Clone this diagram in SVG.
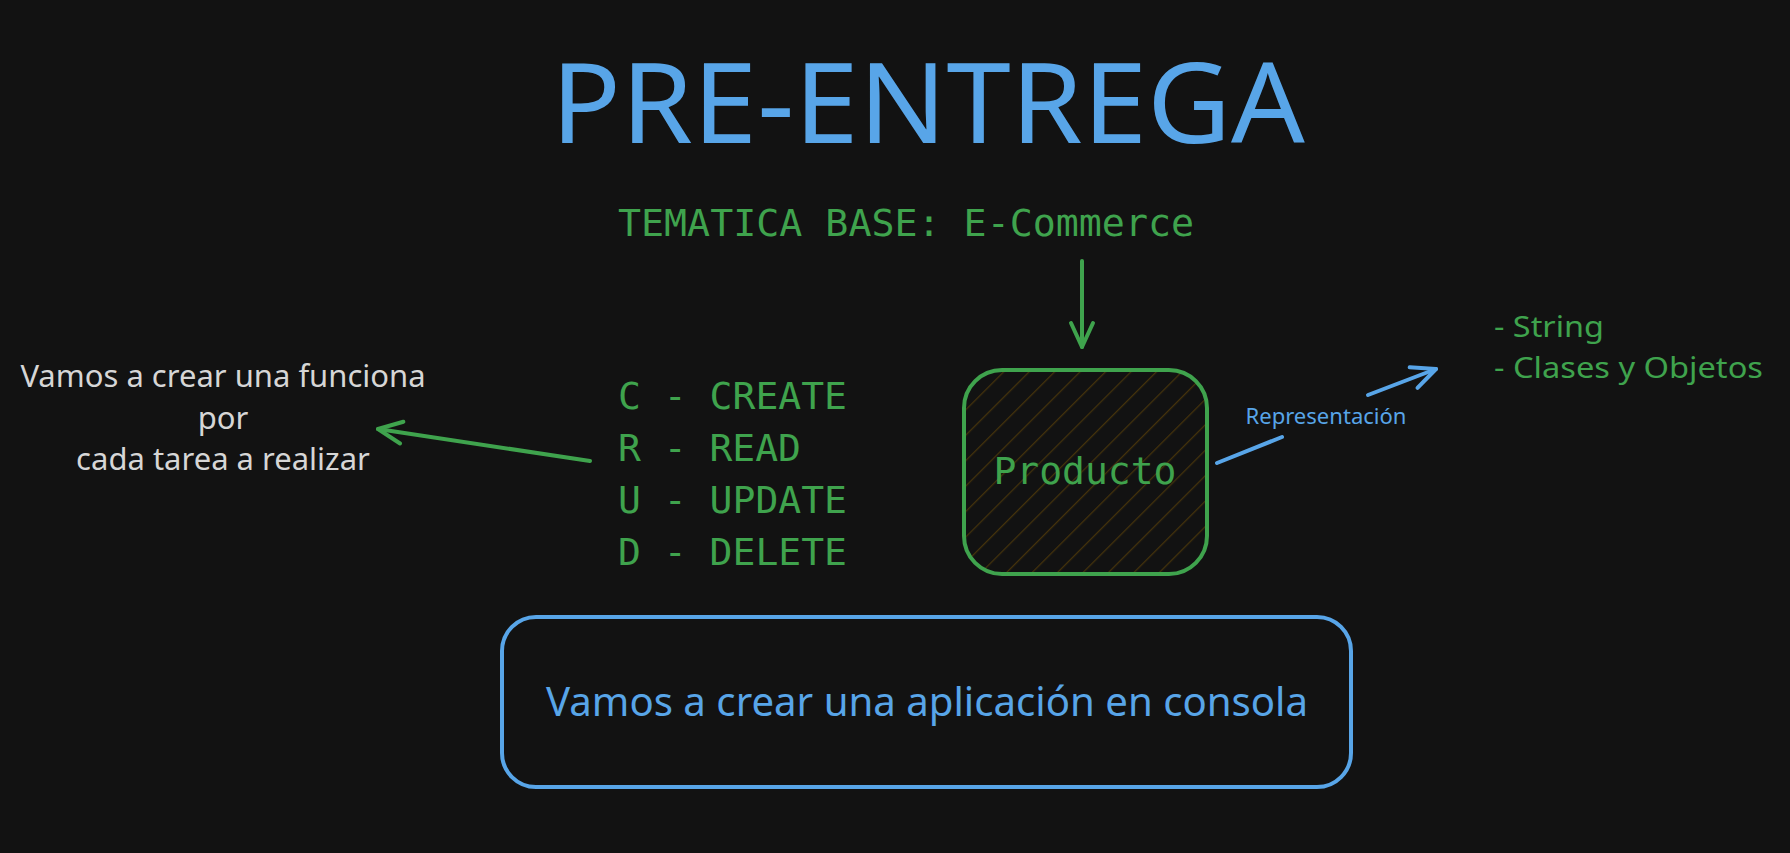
<svg xmlns="http://www.w3.org/2000/svg" width="1790" height="853" viewBox="0 0 1790 853">
  <style>
    .sans { font-family: "Noto Sans", "Open Sans", sans-serif; }
    .mono { font-family: "DejaVu Sans Mono", "Liberation Mono", monospace; }
    .green { fill: #3fa34d; }
    .blue { fill: #58a5e8; }
    .grey { fill: #d6d6d6; }
    .edge { fill: none; stroke-width: 4; stroke-linecap: round; stroke-linejoin: round; }
  </style>
  <defs>
    <pattern id="hatch" width="18" height="18" patternUnits="userSpaceOnUse" patternTransform="rotate(45)">
      <line x1="0" y1="0" x2="0" y2="18" stroke="#45330b" stroke-width="2.5"/>
    </pattern>
    <marker id="headGreen" markerUnits="userSpaceOnUse" markerWidth="40" markerHeight="40" refX="0" refY="0" viewBox="-30 -20 40 40" orient="auto" overflow="visible">
      <path d="M-24,-11 L0,0 L-24,11" fill="none" stroke="#3fa34d" stroke-width="4" stroke-linecap="round" stroke-linejoin="round"/>
    </marker>
    <marker id="headBlue" markerUnits="userSpaceOnUse" markerWidth="40" markerHeight="40" refX="0" refY="0" viewBox="-30 -20 40 40" orient="auto" overflow="visible">
      <path d="M-24,-11 L0,0 L-24,11" fill="none" stroke="#58a5e8" stroke-width="4" stroke-linecap="round" stroke-linejoin="round"/>
    </marker>
  </defs>

  <rect width="1790" height="853" fill="#121212"/>

  <g id="title">
    <text class="sans blue" x="551" y="143" font-size="112" textLength="754" lengthAdjust="spacingAndGlyphs">PRE-ENTREGA</text>
  </g>

  <g id="tema">
    <text class="mono green" x="618" y="236" font-size="38" textLength="576" lengthAdjust="spacingAndGlyphs">TEMATICA BASE: E-Commerce</text>
  </g>

  <g id="crud" class="mono green" font-size="38">
    <text x="618" y="409" textLength="229" lengthAdjust="spacingAndGlyphs">C - CREATE</text>
    <text x="618" y="461" textLength="183" lengthAdjust="spacingAndGlyphs">R - READ</text>
    <text x="618" y="513" textLength="229" lengthAdjust="spacingAndGlyphs">U - UPDATE</text>
    <text x="618" y="565" textLength="229" lengthAdjust="spacingAndGlyphs">D - DELETE</text>
  </g>

  <g id="producto">
    <rect x="964" y="370" width="243" height="204" rx="38" fill="url(#hatch)" stroke="#3fa34d" stroke-width="4"/>
    <text class="mono green" x="1085" y="484" font-size="38" text-anchor="middle" textLength="183" lengthAdjust="spacingAndGlyphs">Producto</text>
  </g>

  <g id="tipos" class="sans green" font-size="29.5">
    <text x="1494" y="337" textLength="110" lengthAdjust="spacingAndGlyphs">- String</text>
    <text x="1494" y="378" textLength="269" lengthAdjust="spacingAndGlyphs">- Clases y Objetos</text>
  </g>

  <g id="funciones" class="sans grey" font-size="31" text-anchor="middle">
    <text x="223" y="387">Vamos a crear una funciona</text>
    <text x="223" y="429">por</text>
    <text x="223" y="470">cada tarea a realizar</text>
  </g>

  <g id="consola">
    <rect x="502" y="617" width="849" height="170" rx="34" fill="none" stroke="#58a5e8" stroke-width="4"/>
    <text class="sans blue" x="927" y="716" font-size="40" text-anchor="middle" textLength="762" lengthAdjust="spacingAndGlyphs">Vamos a crear una aplicación en consola</text>
  </g>

  <g id="connectors">
    <line class="edge" x1="1082" y1="261" x2="1082" y2="347" stroke="#3fa34d" marker-end="url(#headGreen)"/>
    <line class="edge" x1="590" y1="461" x2="378" y2="429" stroke="#3fa34d" marker-end="url(#headGreen)"/>
    <line class="edge" x1="1217" y1="463" x2="1282" y2="437" stroke="#58a5e8"/>
    <line class="edge" x1="1368" y1="395" x2="1436" y2="369" stroke="#58a5e8" marker-end="url(#headBlue)"/>
    <text class="sans blue" x="1326" y="424" font-size="21" text-anchor="middle" textLength="161" lengthAdjust="spacingAndGlyphs">Representación</text>
  </g>
</svg>
